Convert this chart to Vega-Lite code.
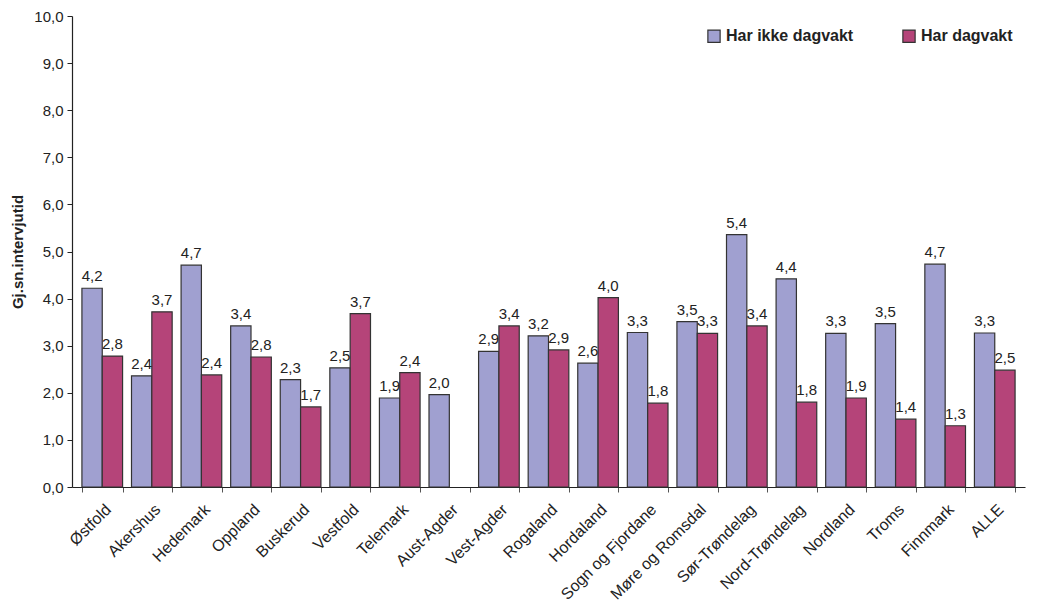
{
  "$schema": "https://vega.github.io/schema/vega-lite/v6.json",
  "width": 953,
  "height": 471,
  "padding": {"left": 10, "top": 9, "right": 13, "bottom": 0},
  "autosize": {"type": "pad"},
  "background": "white",
  "config": {
    "locale": {"number": {"decimal": ",", "thousands": " ", "grouping": [3], "currency": ["", " kr"]}},
    "font": "Liberation Sans",
    "view": {"stroke": null}
  },
  "data": {
    "values": [
      {"fylke": "Østfold", "serie": "Har ikke dagvakt", "verdi": 4.22},
      {"fylke": "Østfold", "serie": "Har dagvakt", "verdi": 2.78},
      {"fylke": "Akershus", "serie": "Har ikke dagvakt", "verdi": 2.36},
      {"fylke": "Akershus", "serie": "Har dagvakt", "verdi": 3.72},
      {"fylke": "Hedemark", "serie": "Har ikke dagvakt", "verdi": 4.71},
      {"fylke": "Hedemark", "serie": "Har dagvakt", "verdi": 2.38},
      {"fylke": "Oppland", "serie": "Har ikke dagvakt", "verdi": 3.42},
      {"fylke": "Oppland", "serie": "Har dagvakt", "verdi": 2.76},
      {"fylke": "Buskerud", "serie": "Har ikke dagvakt", "verdi": 2.28},
      {"fylke": "Buskerud", "serie": "Har dagvakt", "verdi": 1.70},
      {"fylke": "Vestfold", "serie": "Har ikke dagvakt", "verdi": 2.53},
      {"fylke": "Vestfold", "serie": "Har dagvakt", "verdi": 3.68},
      {"fylke": "Telemark", "serie": "Har ikke dagvakt", "verdi": 1.89},
      {"fylke": "Telemark", "serie": "Har dagvakt", "verdi": 2.43},
      {"fylke": "Aust-Agder", "serie": "Har ikke dagvakt", "verdi": 1.96},
      {"fylke": "Vest-Agder", "serie": "Har ikke dagvakt", "verdi": 2.88},
      {"fylke": "Vest-Agder", "serie": "Har dagvakt", "verdi": 3.42},
      {"fylke": "Rogaland", "serie": "Har ikke dagvakt", "verdi": 3.21},
      {"fylke": "Rogaland", "serie": "Har dagvakt", "verdi": 2.91},
      {"fylke": "Hordaland", "serie": "Har ikke dagvakt", "verdi": 2.63},
      {"fylke": "Hordaland", "serie": "Har dagvakt", "verdi": 4.02},
      {"fylke": "Sogn og Fjordane", "serie": "Har ikke dagvakt", "verdi": 3.28},
      {"fylke": "Sogn og Fjordane", "serie": "Har dagvakt", "verdi": 1.78},
      {"fylke": "Møre og Romsdal", "serie": "Har ikke dagvakt", "verdi": 3.51},
      {"fylke": "Møre og Romsdal", "serie": "Har dagvakt", "verdi": 3.26},
      {"fylke": "Sør-Trøndelag", "serie": "Har ikke dagvakt", "verdi": 5.36},
      {"fylke": "Sør-Trøndelag", "serie": "Har dagvakt", "verdi": 3.42},
      {"fylke": "Nord-Trøndelag", "serie": "Har ikke dagvakt", "verdi": 4.42},
      {"fylke": "Nord-Trøndelag", "serie": "Har dagvakt", "verdi": 1.80},
      {"fylke": "Nordland", "serie": "Har ikke dagvakt", "verdi": 3.26},
      {"fylke": "Nordland", "serie": "Har dagvakt", "verdi": 1.89},
      {"fylke": "Troms", "serie": "Har ikke dagvakt", "verdi": 3.47},
      {"fylke": "Troms", "serie": "Har dagvakt", "verdi": 1.44},
      {"fylke": "Finnmark", "serie": "Har ikke dagvakt", "verdi": 4.73},
      {"fylke": "Finnmark", "serie": "Har dagvakt", "verdi": 1.30},
      {"fylke": "ALLE", "serie": "Har ikke dagvakt", "verdi": 3.27},
      {"fylke": "ALLE", "serie": "Har dagvakt", "verdi": 2.48}
    ]
  },
  "encoding": {
    "x": {
      "field": "fylke",
      "type": "nominal",
      "sort": null,
      "scale": {"paddingInner": 0.18, "paddingOuter": 0.2},
      "axis": {
        "title": null,
        "labelAngle": -45,
        "labelAlign": "right",
        "labelBaseline": "top",
        "labelFontSize": 16,
        "labelColor": "#222222",
        "labelPadding": 9,
        "tickBand": "extent",
        "tickSize": 5,
        "tickColor": "#555555",
        "domainColor": "#222222",
        "domainWidth": 1.2
      }
    },
    "xOffset": {
      "field": "serie",
      "type": "nominal",
      "sort": ["Har ikke dagvakt", "Har dagvakt"]
    },
    "y": {
      "field": "verdi",
      "type": "quantitative",
      "scale": {"domain": [0, 10], "nice": false},
      "axis": {
        "title": "Gj.sn.intervjutid",
        "titleFontSize": 15,
        "titleFontWeight": "bold",
        "titleColor": "#222222",
        "titlePadding": 8,
        "values": [0, 1, 2, 3, 4, 5, 6, 7, 8, 9, 10],
        "format": ".1f",
        "labelFontSize": 15,
        "labelColor": "#222222",
        "labelPadding": 4,
        "tickSize": 5,
        "tickColor": "#222222",
        "domainColor": "#222222",
        "domainWidth": 1.2,
        "grid": false
      }
    }
  },
  "layer": [
    {
      "mark": {"type": "bar", "stroke": "#333333", "strokeWidth": 1.2},
      "encoding": {
        "color": {
          "field": "serie",
          "type": "nominal",
          "sort": ["Har ikke dagvakt", "Har dagvakt"],
          "scale": {"domain": ["Har ikke dagvakt", "Har dagvakt"], "range": ["#a0a0d0", "#b54479"]},
          "legend": {
            "title": null,
            "orient": "none",
            "legendX": 634,
            "legendY": 12,
            "direction": "horizontal",
            "columns": 2,
            "columnPadding": 46,
            "symbolType": "square",
            "symbolSize": 150,
            "symbolStrokeColor": "#333333",
            "symbolStrokeWidth": 1.2,
            "labelFontSize": 16,
            "labelFontWeight": "bold",
            "labelColor": "#222222"
          }
        }
      }
    },
    {
      "mark": {"type": "text", "dy": -12, "fontSize": 15, "color": "#222222"},
      "encoding": {
        "text": {"field": "verdi", "type": "quantitative", "format": ".1f"}
      }
    }
  ]
}
